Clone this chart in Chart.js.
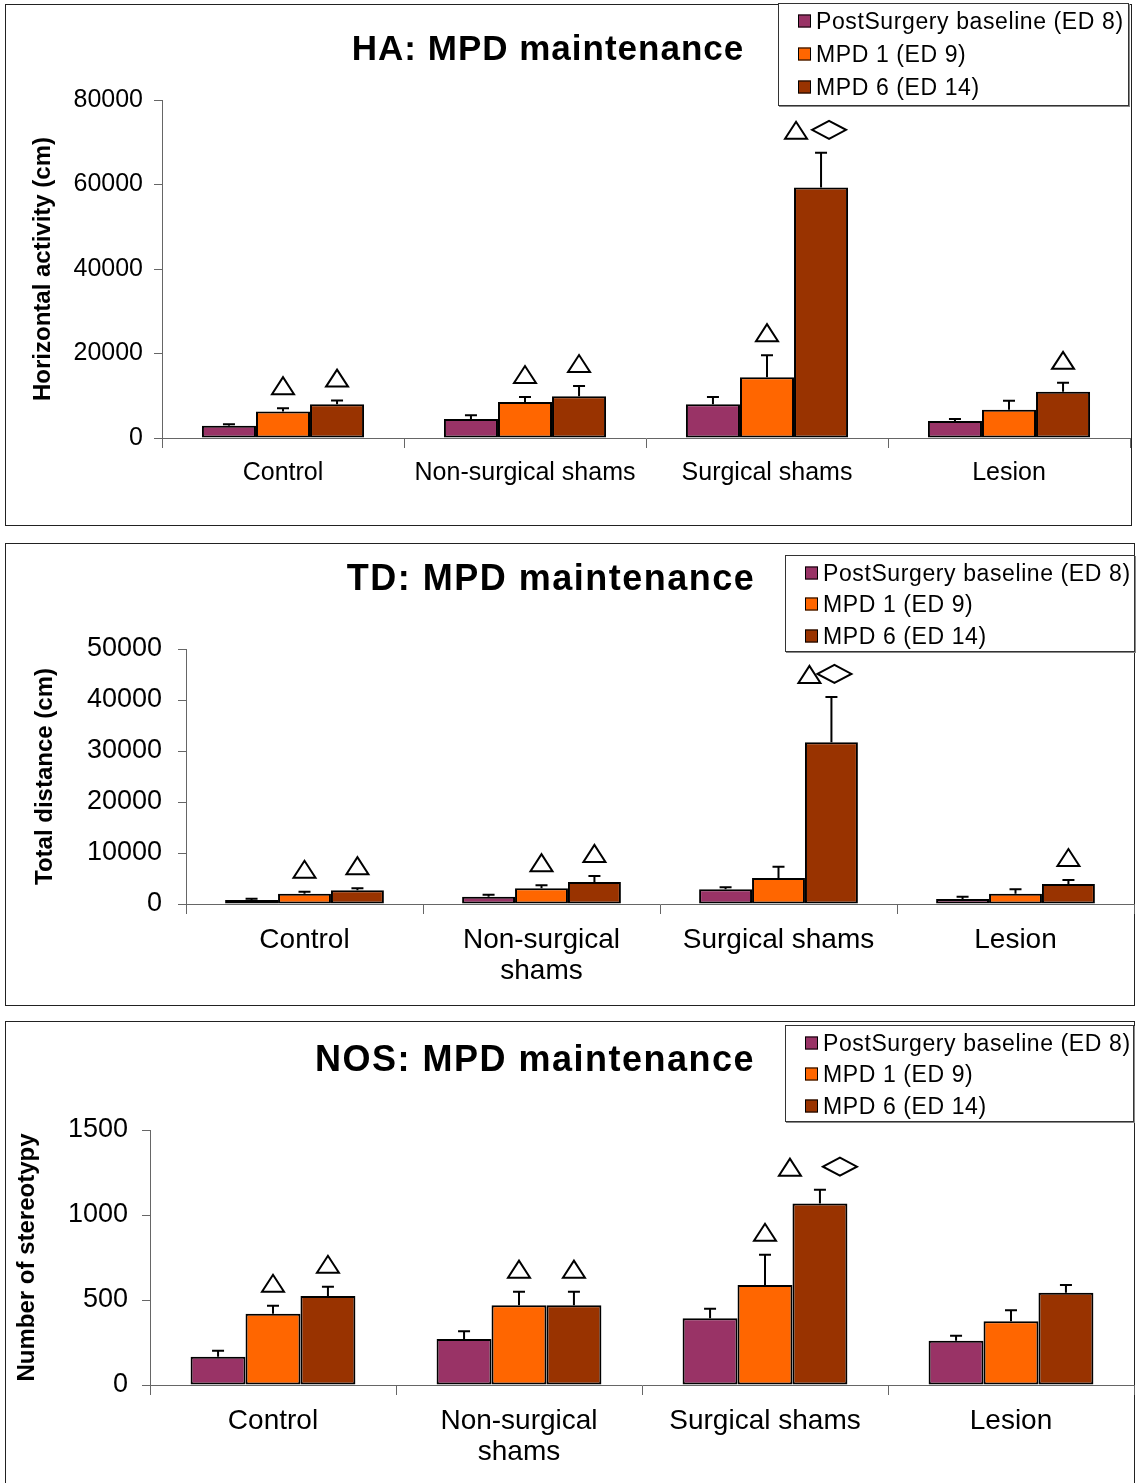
<!DOCTYPE html>
<html>
<head>
<meta charset="utf-8">
<script src="https://cdn.jsdelivr.net/npm/chart.js@4.4.0/dist/chart.umd.min.js"></script>
<style>
body { margin: 0; background: #fff; font-family: 'Liberation Sans', Arial, sans-serif; }
#page { position: relative; width: 1136px; height: 1483px; overflow: hidden; }
.panel { position: absolute; border: 1.5px solid #222; box-sizing: border-box; }
canvas { position: absolute; left: 0; }
.title { position: absolute; font-weight: bold; font-size: 36px; letter-spacing: 1.5px;
         white-space: nowrap; transform: translate(-50%, -50%); line-height: 1; }
.legend { position: absolute; border: 1px solid #333; box-shadow: 1px 1px 0 #888; background: #fff; box-sizing: border-box; }
.legend div { position: absolute; left: 19px; font-size: 23px; letter-spacing: 0.6px; white-space: nowrap;
              line-height: 1; transform: translateY(-50%); }
.legend span { display: inline-block; width: 11px; height: 11px; border: 1px solid #000; margin-right: 5px;
               vertical-align: 1px; }
</style>
</head>
<body>
<div id="page">
  <div class="panel" style="left:5px;top:4px;width:1127px;height:522px"></div>
  <div class="panel" style="left:5px;top:543px;width:1130px;height:463px"></div>
  <div class="panel" style="left:5px;top:1021px;width:1130px;height:470px"></div>

  <canvas id="haChart" width="1136" height="528" style="top:0px"></canvas>
  <canvas id="tdChart" width="1136" height="468" style="top:540px"></canvas>
  <canvas id="nosChart" width="1136" height="465" style="top:1018px"></canvas>

  <div class="title" style="left:548px;top:47px;font-size:35px;letter-spacing:1px">HA: MPD maintenance</div>
  <div class="title" style="left:551px;top:578px">TD: MPD maintenance</div>
  <div class="title" style="left:535px;top:1059px">NOS: MPD maintenance</div>

  <div class="legend" id="haLegend" style="left:778px;top:3px;width:351px;height:103px"></div>
  <div class="legend" id="tdLegend" style="left:785px;top:555px;width:350px;height:97px"></div>
  <div class="legend" id="nosLegend" style="left:785px;top:1025px;width:349px;height:97px"></div>
</div>

<script>
// groups and series
const groups = ['Control', 'Non-surgical shams', 'Surgical shams', 'Lesion'];
const groupsWrapped = ['Control', ['Non-surgical', 'shams'], 'Surgical shams', 'Lesion'];
const seriesNames = ['PostSurgery baseline (ED 8)', 'MPD 1 (ED 9)', 'MPD 6 (ED 14)'];
const seriesColors = ['#993366', '#FF6600', '#993300'];

// HA: horizontal activity (cm)
const haBaseline = [2900, 4500, 8000, 4000];
const haBaselineErr = [350, 900, 1700, 500];
const haMpd1 = [6300, 8500, 14400, 6700];
const haMpd1Err = [750, 1200, 5200, 2100];
const haMpd6 = [8000, 9900, 59300, 10950];
const haMpd6Err = [850, 2400, 8200, 2100];
const haTicks = [0, 20000, 40000, 60000, 80000];

// TD: total distance (cm)
const tdBaseline = [800, 1400, 2900, 1000];
const tdBaselineErr = [250, 400, 400, 400];
const tdMpd1 = [2000, 3100, 5100, 2000];
const tdMpd1Err = [400, 600, 2200, 900];
const tdMpd6 = [2700, 4300, 31700, 3900];
const tdMpd6Err = [400, 1200, 8900, 800];
const tdTicks = [0, 10000, 20000, 30000, 40000, 50000];

// NOS: number of stereotypy
const nosBaseline = [166, 270, 392, 261];
const nosBaselineErr = [36, 46, 57, 29];
const nosMpd1 = [419, 469, 588, 375];
const nosMpd1Err = [47, 80, 178, 64];
const nosMpd6 = [523, 469, 1067, 543];
const nosMpd6Err = [55, 80, 82, 45];
const nosTicks = [0, 500, 1000, 1500];

// significance marks above bars (triangle / diamond)
const haMarks = [['', '', '', ''], ['△', '△', '△', ''], ['△', '△', '△◇', '△']];
const tdMarks = [['', '', '', ''], ['△', '△', '', ''], ['△', '△', '△◇', '△']];
const nosMarks = [['', '', '', ''], ['△', '△', '△', ''], ['△', '△', '△◇', '']];

function drawMark(ctx, m, x, base) {
    ctx.beginPath();
    if (m === '△') {
        ctx.moveTo(x - 11, base);
        ctx.lineTo(x + 11, base);
        ctx.lineTo(x, base - 17);
        ctx.closePath();
    } else {
        ctx.moveTo(x - 17, base - 9);
        ctx.lineTo(x, base - 18);
        ctx.lineTo(x + 17, base - 9);
        ctx.lineTo(x, base);
        ctx.closePath();
    }
    ctx.fillStyle = '#fff';
    ctx.fill();
    ctx.stroke();
}

// error bars and marks, placed through the y scale
const errorBars = {
    id: 'errorBars',
    afterDatasetsDraw(chart, args, opts) {
        let ctx = chart.ctx;
        let yScale = chart.scales.y;
        chart.data.datasets.forEach(function (ds, i) {
            let meta = chart.getDatasetMeta(i);
            meta.data.forEach(function (bar, j) {
                let top = yScale.getPixelForValue(ds.data[j] + ds.errors[j]);
                ctx.save();
                ctx.strokeStyle = '#000';
                ctx.lineWidth = 2;
                ctx.beginPath();
                ctx.moveTo(bar.x, bar.y);
                ctx.lineTo(bar.x, top);
                ctx.moveTo(bar.x - 6, top);
                ctx.lineTo(bar.x + 6, top);
                ctx.stroke();
                let m = ds.marks[j];
                let base = top - opts.gap;
                if (m.length === 1) {
                    drawMark(ctx, m, bar.x, base);
                } else if (m.length === 2) {
                    drawMark(ctx, m[0], bar.x + opts.pair[0], base);
                    drawMark(ctx, m[1], bar.x + opts.pair[1], base);
                }
                ctx.restore();
            });
        });
    }
};

function buildLegend(id, rows) {
    let box = document.getElementById(id);
    seriesNames.forEach(function (name, i) {
        let row = document.createElement('div');
        row.style.top = rows[i] + 'px';
        row.innerHTML = '<span style="background:' + seriesColors[i] + '"></span>' + name;
        box.appendChild(row);
    });
}

function makeChart(id, c) {
    let ctx = document.getElementById(id).getContext('2d');
    let values = [c.baseline, c.mpd1, c.mpd6];
    let errs = [c.baselineErr, c.mpd1Err, c.mpd6Err];
    return new Chart(ctx, {
        type: 'bar',
        data: {
            labels: c.labels,
            datasets: seriesNames.map(function (name, i) {
                return {
                    label: name,
                    data: values[i],
                    errors: errs[i],
                    marks: c.marks[i],
                    backgroundColor: seriesColors[i],
                    borderColor: '#000',
                    borderWidth: 2,
                    borderSkipped: false,
                    categoryPercentage: 0.67,
                    barPercentage: 1
                };
            })
        },
        options: {
            responsive: false,
            animation: false,
            layout: { padding: { top: c.top, right: c.right, left: 0, bottom: 0 } },
            plugins: {
                legend: { display: false },
                tooltip: { enabled: false },
                errorBars: { gap: c.gap, pair: c.pair }
            },
            scales: {
                x: {
                    grid: { offset: true, drawOnChartArea: false, tickLength: 10, color: '#666' },
                    border: { color: '#666' },
                    ticks: {
                        color: '#000', padding: 11, maxRotation: 0, autoSkip: false,
                        font: { family: 'Liberation Sans', size: c.catSize, lineHeight: 1.1 }
                    },
                    afterFit: function (s) { s.height = c.xh; }
                },
                y: {
                    min: 0,
                    max: c.ticks[c.ticks.length - 1],
                    afterBuildTicks: function (s) { s.ticks = c.ticks.map(v => ({ value: v })); },
                    grid: { drawOnChartArea: false, tickLength: 8, color: '#666' },
                    border: { color: '#666' },
                    ticks: {
                        color: '#000', padding: c.tickPad,
                        font: { family: 'Liberation Sans', size: c.tickSize },
                        callback: function (v) { return String(v); }
                    },
                    title: {
                        display: true, text: c.yTitle, color: '#000',
                        font: { family: 'Liberation Sans', size: 24, weight: 'bold' },
                        padding: { top: c.titlePad, bottom: 0 }
                    },
                    afterFit: function (s) { s.width = c.yw; }
                }
            }
        },
        plugins: [errorBars]
    });
}

makeChart('haChart', {
    labels: groups, baseline: haBaseline, baselineErr: haBaselineErr, mpd1: haMpd1, mpd1Err: haMpd1Err,
    mpd6: haMpd6, mpd6Err: haMpd6Err, marks: haMarks, ticks: haTicks,
    yTitle: 'Horizontal activity (cm)', top: 100, right: 6, xh: 90, yw: 162,
    tickSize: 25, tickPad: 11, catSize: 25, titlePad: 29, gap: 14, pair: [-25, 8]
});
makeChart('tdChart', {
    labels: groupsWrapped, baseline: tdBaseline, baselineErr: tdBaselineErr, mpd1: tdMpd1, mpd1Err: tdMpd1Err,
    mpd6: tdMpd6, mpd6Err: tdMpd6Err, marks: tdMarks, ticks: tdTicks,
    yTitle: 'Total distance (cm)', top: 109, right: 2, xh: 104, yw: 186,
    tickSize: 27, tickPad: 16, catSize: 28, titlePad: 31, gap: 14, pair: [-22, 3]
});
makeChart('nosChart', {
    labels: groupsWrapped, baseline: nosBaseline, baselineErr: nosBaselineErr, mpd1: nosMpd1, mpd1Err: nosMpd1Err,
    mpd6: nosMpd6, mpd6Err: nosMpd6Err, marks: nosMarks, ticks: nosTicks,
    yTitle: 'Number of stereotypy', top: 112, right: 2, xh: 98, yw: 150,
    tickSize: 27, tickPad: 14, catSize: 28, titlePad: 13, gap: 14, pair: [-30, 20]
});

buildLegend('haLegend', [17, 50, 83]);
buildLegend('tdLegend', [17, 48, 80]);
buildLegend('nosLegend', [17, 48, 80]);
</script>
</body>
</html>
